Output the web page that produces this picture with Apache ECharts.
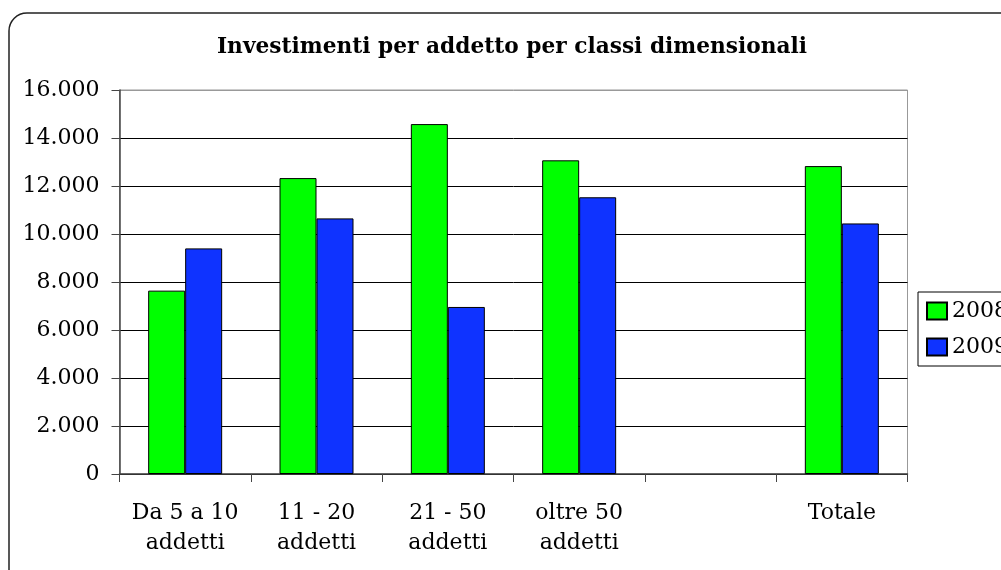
<!DOCTYPE html>
<html>
<head>
<meta charset="utf-8">
<script src="https://cdn.jsdelivr.net/npm/echarts@6/dist/echarts.min.js"></script>
<style>
  html, body { margin: 0; padding: 0; background: #fff; }
  #main { width: 1001px; height: 570px; }
</style>
</head>
<body>
<div id="main"></div>
<script>
// dati
var categorie = ['Da 5 a 10\naddetti', '11 - 20\naddetti', '21 - 50\naddetti', 'oltre 50\naddetti', '', 'Totale'];
var anni = ['2008', '2009'];
var valori2008 = [7640, 12330, 14580, 13070, '-', 12830];
var valori2009 = [9400, 10650, 6960, 11530, '-', 10440];
var yTicks = [0, 2000, 4000, 6000, 8000, 10000, 12000, 14000, 16000];

var font = 'DejaVu Serif';

// formato italiano: 16.000
function fmt(v) {
    if (v < 1000) return String(v);
    var k = Math.floor(v / 1000);
    var r = String(v % 1000);
    while (r.length < 3) r = '0' + r;
    return k + '.' + r;
}

var chart = echarts.init(document.getElementById('main'));

var option = {
    backgroundColor: '#fff',
    animation: false,
    title: {
        text: 'Investimenti per addetto per classi dimensionali',
        left: 512,
        top: 36,
        padding: 0,
        textAlign: 'center',
        textStyle: { fontFamily: font, fontWeight: 'bold', fontSize: 21.7, color: '#000' }
    },
    legend: {
        data: anni,
        orient: 'vertical',
        left: 918,
        top: 292,
        padding: [8, 20, 8, 8],
        itemWidth: 20,
        itemHeight: 17,
        itemGap: 14,
        borderColor: '#000',
        borderWidth: 1,
        borderRadius: 0,
        icon: 'rect',
        textStyle: { fontFamily: font, fontSize: 22, color: '#000', lineHeight: 17, padding: [0, 0, 0, 0] }
    },
    grid: {
        left: 119.5,
        right: 93.5,
        top: 90,
        bottom: 96,
        show: true,
        borderColor: '#999',
        borderWidth: 1
    },
    xAxis: {
        type: 'category',
        data: categorie,
        axisLine: { lineStyle: { color: '#444', width: 1.5 } },
        axisTick: { show: true, length: 8, lineStyle: { color: '#444' } },
        axisLabel: {
            fontFamily: font, fontSize: 22, color: '#000',
            margin: 24, lineHeight: 30, interval: 0
        },
        splitLine: { show: false }
    },
    yAxis: {
        type: 'value',
        min: 0,
        max: yTicks[yTicks.length - 1],
        interval: yTicks[1] - yTicks[0],
        axisLine: { show: true, lineStyle: { color: '#444', width: 1.5 } },
        axisTick: { show: true, length: 8, lineStyle: { color: '#444' } },
        axisLabel: {
            fontFamily: font, fontSize: 22, color: '#000', margin: 20,
            formatter: fmt
        },
        splitLine: {
            show: true,
            lineStyle: { color: ['#000', '#000', '#000', '#000', '#000', '#000', '#000', '#000', '#999'], width: 1 }
        }
    },
    series: [
        {
            name: anni[0],
            type: 'bar',
            data: valori2008,
            barWidth: 37,
            barGap: '0%',
            itemStyle: { color: '#00ff00', borderColor: '#000', borderWidth: 1 }
        },
        {
            name: anni[1],
            type: 'bar',
            data: valori2009,
            barWidth: 37,
            barGap: '0%',
            itemStyle: { color: '#0f33ff', borderColor: '#000', borderWidth: 1 }
        }
    ],
    graphic: [
        {
            type: 'rect',
            silent: true,
            z: 100,
            shape: { x: 9, y: 13, width: 1200, height: 800, r: 18 },
            style: { fill: null, stroke: '#222', lineWidth: 1.5 }
        }
    ]
};

chart.setOption(option);
</script>
</body>
</html>
